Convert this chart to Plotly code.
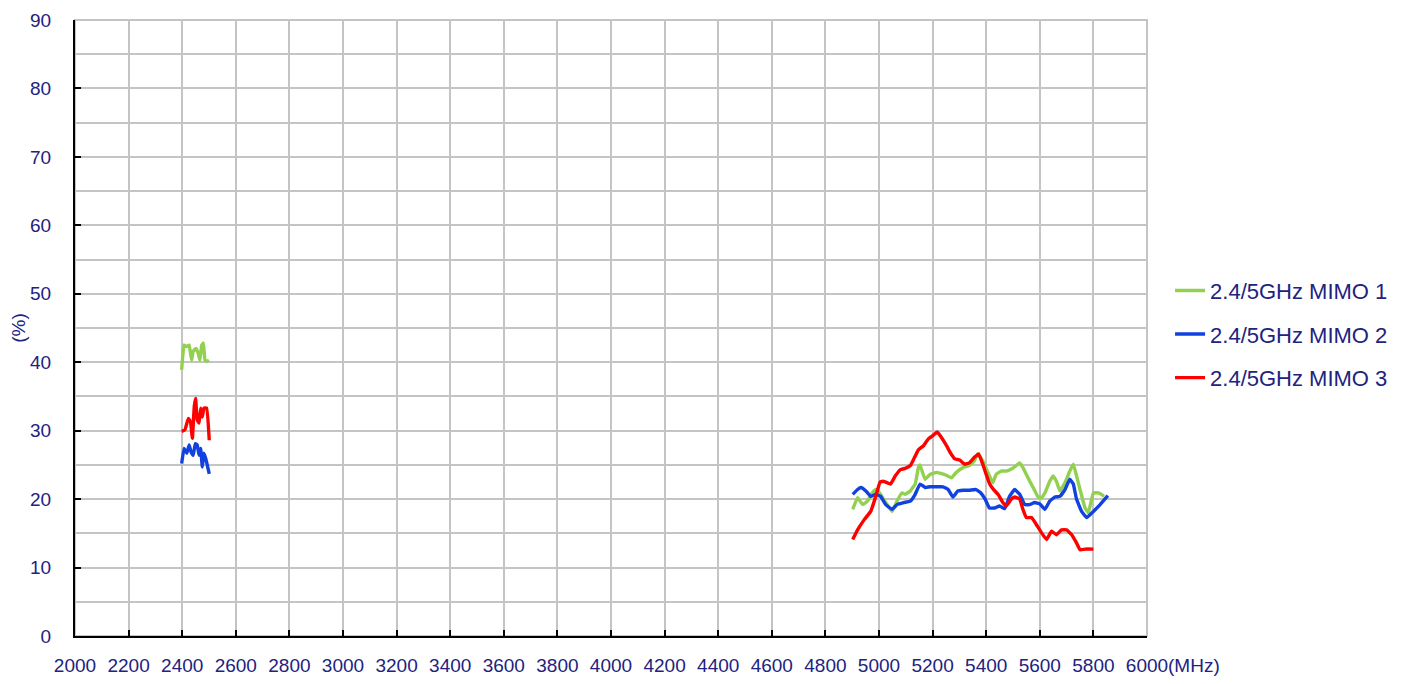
import plotly.graph_objects as go

# ---- data ----
series_names = ["2.4/5GHz MIMO 1", "2.4/5GHz MIMO 2", "2.4/5GHz MIMO 3"]

mimo1_24_freq = [2398, 2407, 2417, 2426, 2435, 2441, 2451, 2460, 2466, 2473, 2479, 2485, 2491, 2500]
mimo1_24_val = [38.9, 42.5, 42.3, 42.5, 40.3, 41.6, 42.0, 41.3, 40.3, 42.5, 42.8, 40.3, 40.1, 40.3]

mimo2_24_freq = [2398, 2407, 2417, 2426, 2433, 2441, 2449, 2456, 2463, 2469, 2475, 2481, 2488, 2501]
mimo2_24_val = [25.2, 27.4, 26.7, 27.9, 26.9, 26.4, 28.1, 27.9, 26.4, 27.4, 24.7, 26.7, 25.9, 23.7]

mimo3_24_freq = [2398, 2410, 2423, 2431, 2438, 2445, 2450, 2456, 2463, 2469, 2475, 2481, 2491, 2501]
mimo3_24_val = [29.9, 30.1, 31.8, 31.3, 28.9, 33.5, 34.7, 31.6, 31.1, 33.3, 32.0, 33.3, 33.3, 28.6]

mimo1_5_freq = [4902, 4920, 4939, 4957, 4975, 4988, 5006, 5025, 5049, 5067, 5086, 5098, 5117, 5135,
                5147, 5153, 5172, 5190, 5215, 5245, 5270, 5288, 5313, 5337, 5356, 5368, 5387, 5405,
                5425, 5437, 5456, 5475, 5494, 5512, 5525, 5537, 5556, 5575, 5594, 5606, 5619, 5637,
                5650, 5662, 5675, 5694, 5712, 5725, 5737, 5750, 5769, 5781, 5800, 5819, 5840]
mimo1_5_val = [18.5, 20.2, 19.2, 19.7, 20.9, 21.4, 20.7, 19.5, 18.2, 19.7, 20.9, 20.7, 21.2, 22.2,
               24.6, 25.0, 22.9, 23.6, 23.9, 23.6, 23.1, 23.9, 24.6, 24.9, 25.6, 26.6, 25.6, 24.0,
               22.4, 23.6, 24.1, 24.1, 24.4, 24.9, 25.3, 24.6, 23.1, 21.7, 20.3, 20.2, 20.9, 22.6,
               23.4, 22.6, 21.2, 22.4, 24.1, 25.1, 23.4, 21.4, 18.7, 18.0, 20.9, 20.9, 20.4]

mimo2_5_freq = [4902, 4920, 4933, 4951, 4969, 4988, 5006, 5025, 5049, 5067, 5092, 5117, 5135, 5153,
                5172, 5190, 5215, 5239, 5258, 5276, 5294, 5313, 5337, 5362, 5380, 5396, 5412, 5431,
                5450, 5469, 5487, 5506, 5525, 5544, 5562, 5581, 5600, 5619, 5637, 5656, 5675, 5694,
                5712, 5725, 5737, 5756, 5775, 5800, 5825, 5854]
mimo2_5_val = [20.7, 21.4, 21.7, 21.2, 20.4, 20.7, 20.4, 19.2, 18.5, 19.2, 19.5, 19.7, 20.7, 22.2,
               21.7, 21.8, 21.8, 21.8, 21.4, 20.3, 21.2, 21.3, 21.3, 21.4, 20.9, 20.0, 18.7, 18.7,
               19.0, 18.6, 20.4, 21.4, 20.7, 19.2, 19.2, 19.5, 19.3, 18.5, 19.7, 20.3, 20.4, 21.4,
               22.9, 22.2, 20.0, 18.2, 17.3, 18.2, 19.2, 20.5]

mimo3_5_freq = [4902, 4920, 4945, 4969, 4988, 5004, 5018, 5043, 5061, 5080, 5098, 5117, 5129, 5147,
                5166, 5184, 5202, 5217, 5233, 5252, 5266, 5282, 5301, 5319, 5337, 5356, 5372, 5387,
                5411, 5425, 5444, 5462, 5475, 5494, 5506, 5525, 5537, 5550, 5569, 5587, 5606, 5625,
                5644, 5662, 5681, 5700, 5719, 5737, 5750, 5769, 5800]
mimo3_5_val = [14.1, 15.5, 17.0, 18.2, 20.4, 22.5, 22.6, 22.2, 23.4, 24.3, 24.5, 24.9, 25.8, 27.2,
               27.8, 28.8, 29.3, 29.8, 29.0, 27.8, 26.8, 25.9, 25.7, 25.1, 25.3, 26.1, 26.6, 25.1,
               22.4, 21.5, 20.7, 19.5, 19.0, 20.0, 20.3, 20.0, 18.5, 17.3, 17.3, 16.3, 15.1, 14.1,
               15.3, 14.8, 15.5, 15.5, 14.8, 13.6, 12.6, 12.7, 12.7]

colors = ["#92D050", "#1142E0", "#FF0000"]

x_ticks = list(range(2000, 6001, 200))
x_ticktext = [str(v) for v in x_ticks]
y_ticks = list(range(0, 91, 10))

TEXT_COLOR = "#22227F"
FONT = "Liberation Sans, Arial, sans-serif"

series = [
    (mimo1_24_freq, mimo1_24_val, mimo1_5_freq, mimo1_5_val),
    (mimo2_24_freq, mimo2_24_val, mimo2_5_freq, mimo2_5_val),
    (mimo3_24_freq, mimo3_24_val, mimo3_5_freq, mimo3_5_val),
]

fig = go.Figure()
for i, (f24, v24, f5, v5) in enumerate(series):
    fig.add_trace(go.Scatter(
        x=f24 + [None] + f5,
        y=v24 + [None] + v5,
        mode="lines",
        name=series_names[i],
        legendgroup=f"g{i}",
        line=dict(color=colors[i], width=3.4, shape="spline", smoothing=0.3),
        connectgaps=False,
    ))

fig.update_layout(
    width=1390, height=668,
    margin=dict(l=67, r=251, t=12, b=40, autoexpand=False),
    paper_bgcolor="white", plot_bgcolor="white",
    font=dict(family=FONT, color=TEXT_COLOR, size=19),
    showlegend=True,
    legend=dict(
        x=1.0215, xanchor="left", y=0.49, yanchor="middle",
        font=dict(size=22, color=TEXT_COLOR, family=FONT),
        tracegroupgap=12, bgcolor="rgba(0,0,0,0)",
        itemwidth=30,
    ),
    xaxis=dict(
        range=[2000, 6000], tickvals=x_ticks, ticktext=x_ticktext,
        showgrid=True, gridcolor="#C4C4C4", gridwidth=2,
        showline=True, linecolor="black", linewidth=2,
        ticks="inside", ticklen=6, tickcolor="black", tickwidth=2,
        tickfont=dict(size=19, color=TEXT_COLOR), ticklabelstandoff=11,
        zeroline=False, automargin=False,
    ),
    yaxis=dict(
        range=[0, 90], tickvals=y_ticks,
        showgrid=True, gridcolor="#C4C4C4", gridwidth=2,
        minor=dict(dtick=5, tick0=0, showgrid=True, gridcolor="#C4C4C4", gridwidth=2),
        showline=True, linecolor="black", linewidth=2,
        ticks="inside", ticklen=6, tickcolor="black", tickwidth=2,
        tickfont=dict(size=19, color=TEXT_COLOR), ticklabelstandoff=18,
        title=dict(text="(%)", font=dict(size=19, color=TEXT_COLOR), standoff=12),
        zeroline=False, automargin=False,
    ),
    shapes=[dict(type="rect", xref="paper", yref="paper", x0=0, y0=0, x1=1, y1=1,
                 line=dict(color="#C4C4C4", width=2), layer="below")],
    annotations=[dict(text="(MHz)", x=6000, xref="x", y=0, yref="paper",
                      xanchor="left", yanchor="middle", xshift=20, yshift=-29,
                      borderpad=0, showarrow=False,
                      font=dict(size=19, color=TEXT_COLOR))],
)

fig.write_html("out.html")
